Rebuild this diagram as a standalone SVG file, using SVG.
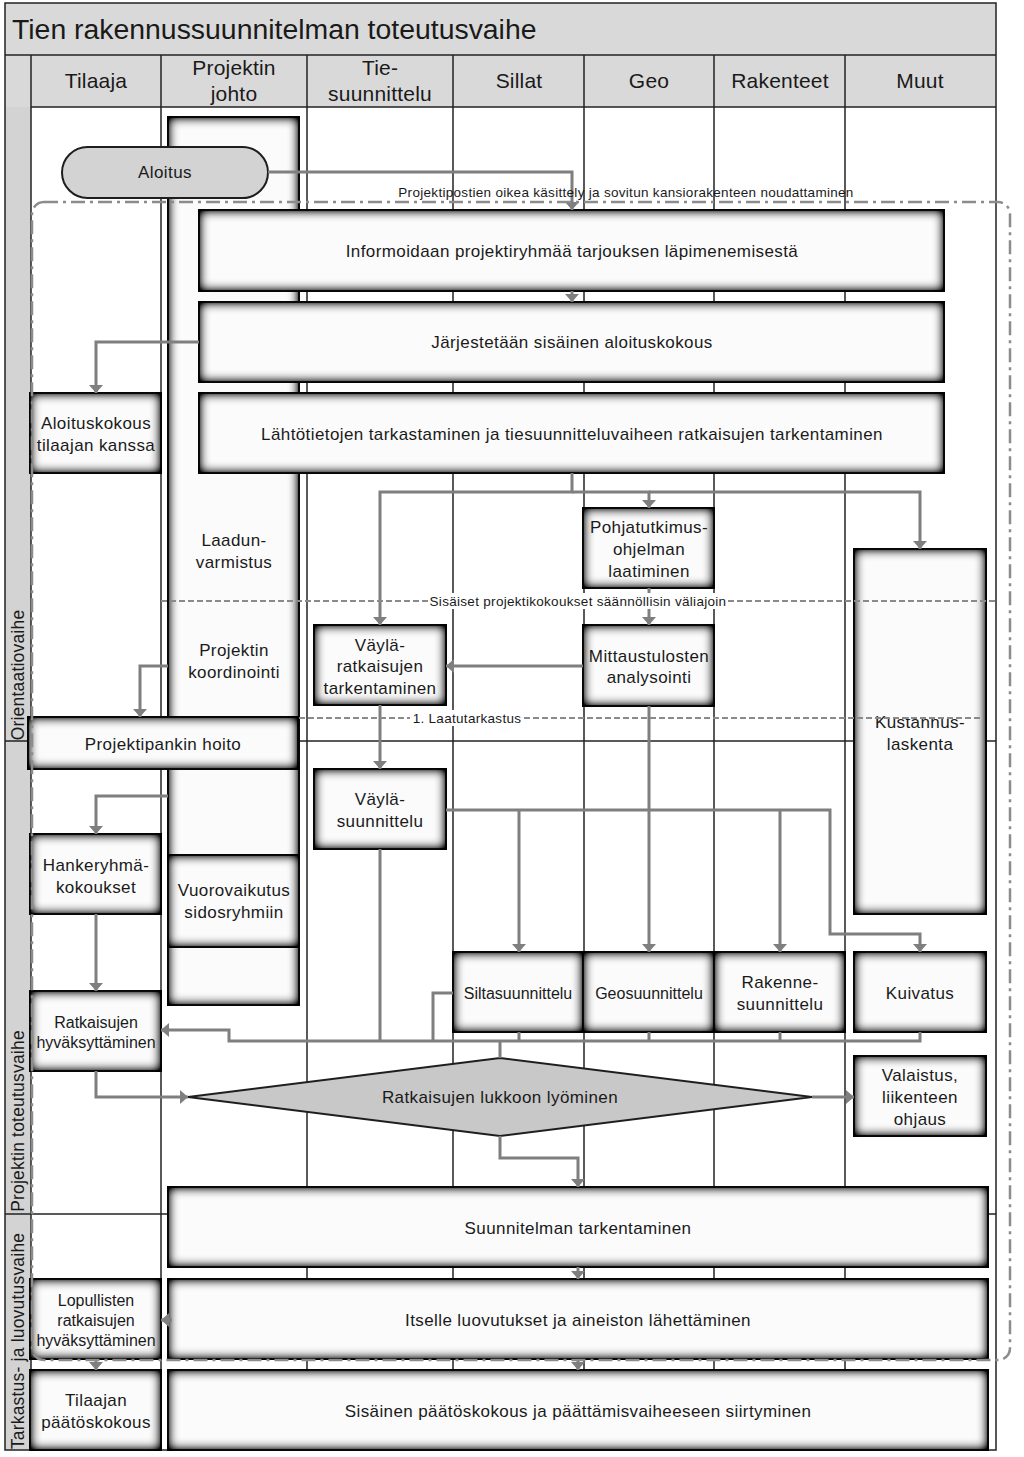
<svg xmlns="http://www.w3.org/2000/svg" width="1024" height="1457" viewBox="0 0 1024 1457">
<defs>
<style>
text{font-family:"Liberation Sans",Arial,sans-serif;fill:#1a1a1a;text-anchor:middle}
.t{font-size:17px;letter-spacing:0.4px}
.t15{font-size:16px;letter-spacing:0px}
.h{font-size:21px;letter-spacing:0.2px}
.s{font-size:13.5px;letter-spacing:0.3px}
.ph{font-size:17.5px;letter-spacing:0.2px}
.box{fill:#fbfbfb;stroke:#1e1e1e;stroke-width:2}
.grid{stroke:#222;stroke-width:1.5;fill:none}
.con{fill:none;stroke:#7f7f7f;stroke-width:3}
.arr{marker-end:url(#ah)}
.dash{stroke:#8a8a8a;stroke-width:2;stroke-dasharray:6 3;fill:none}
.dd{fill:none;stroke:#8c8c8c;stroke-width:2.5;stroke-dasharray:14 5 3 5}
</style>
<filter id="ig" x="-20%" y="-30%" width="140%" height="160%" color-interpolation-filters="sRGB">
<feFlood flood-color="#000" flood-opacity="1" result="f"/>
<feComposite in="f" in2="SourceAlpha" operator="out" result="inv"/>
<feGaussianBlur in="inv" stdDeviation="6" result="blur"/>
<feComposite in="blur" in2="SourceAlpha" operator="in" result="shadow"/>
<feComponentTransfer in="shadow" result="sh2"><feFuncA type="linear" slope="1.7"/></feComponentTransfer>
<feMerge><feMergeNode in="SourceGraphic"/><feMergeNode in="sh2"/></feMerge>
</filter>
<marker id="ah" viewBox="0 0 8 14" refX="8" refY="7" markerWidth="2.8" markerHeight="4.8" orient="auto" markerUnits="strokeWidth">
<path d="M0,0 L8,7 L0,14 z" fill="#7f7f7f"/>
</marker>
</defs>

<g id="frame">
<rect x="5" y="3" width="991" height="1447" fill="#fff"/>
<rect x="5" y="3" width="991" height="52" fill="#d9d9d9"/>
<rect x="5" y="55" width="991" height="52" fill="#d9d9d9"/>
<rect x="5" y="107" width="26" height="1343" fill="#d3d3d3"/>
<rect x="5" y="3" width="991" height="1447" class="grid"/>
<line x1="5" y1="55" x2="996" y2="55" class="grid"/>
<line x1="31" y1="107" x2="996" y2="107" class="grid"/>
<line x1="31" y1="55" x2="31" y2="1450" class="grid"/>
<line x1="161" y1="55" x2="161" y2="1450" class="grid"/>
<line x1="307" y1="55" x2="307" y2="1450" class="grid"/>
<line x1="453" y1="55" x2="453" y2="1450" class="grid"/>
<line x1="584" y1="55" x2="584" y2="1450" class="grid"/>
<line x1="714" y1="55" x2="714" y2="1450" class="grid"/>
<line x1="845" y1="55" x2="845" y2="1450" class="grid"/>
<line x1="5" y1="741" x2="996" y2="741" class="grid"/>
<line x1="5" y1="1214" x2="996" y2="1214" class="grid"/>
<text x="12" y="39" style="font-size:28.4px;text-anchor:start">Tien rakennussuunnitelman toteutusvaihe</text>
<text class="h" x="96" y="88">Tilaaja</text>
<text class="h" x="234" y="75">Projektin</text>
<text class="h" x="234" y="101">johto</text>
<text class="h" x="380" y="75">Tie-</text>
<text class="h" x="380" y="101">suunnittelu</text>
<text class="h" x="519" y="88">Sillat</text>
<text class="h" x="649" y="88">Geo</text>
<text class="h" x="780" y="88">Rakenteet</text>
<text class="h" x="920" y="88">Muut</text>
<text class="ph" transform="translate(24,675) rotate(-90)">Orientaatiovaihe</text>
<text class="ph" transform="translate(24,1121) rotate(-90)">Projektin toteutusvaihe</text>
<text class="ph" transform="translate(24,1341) rotate(-90)">Tarkastus- ja luovutusvaihe</text>
</g>

<g id="n-johto"><rect class="box" filter="url(#ig)" x="168" y="117" width="131" height="888"/>
<text class="t" x="234" y="546">Laadun-</text><text class="t" x="234" y="568">varmistus</text>
<text class="t" x="234" y="656">Projektin</text><text class="t" x="234" y="678">koordinointi</text></g>
<g id="n-vuoro"><rect class="box" filter="url(#ig)" x="168" y="855" width="131" height="92"/>
<text class="t" x="234" y="896">Vuorovaikutus</text><text class="t" x="234" y="918">sidosryhmiin</text></g>
<g id="n-aloitus"><rect x="62" y="147" width="206" height="51" rx="25.5" fill="#d3d3d3" stroke="#1e1e1e" stroke-width="2"/>
<text class="t" x="165" y="178">Aloitus</text></g>
<g id="n-info"><rect class="box" filter="url(#ig)" x="199" y="210" width="745" height="81"/>
<text class="t" x="572" y="257">Informoidaan projektiryhmää tarjouksen läpimenemisestä</text></g>
<g id="n-jarj"><rect class="box" filter="url(#ig)" x="199" y="302" width="745" height="80"/>
<text class="t" x="572" y="348">Järjestetään sisäinen aloituskokous</text></g>
<g id="n-lahto"><rect class="box" filter="url(#ig)" x="199" y="393" width="745" height="80"/>
<text class="t" x="572" y="440">Lähtötietojen tarkastaminen ja tiesuunnitteluvaiheen ratkaisujen tarkentaminen</text></g>
<g id="n-aloko"><rect class="box" filter="url(#ig)" x="30" y="393" width="131" height="80"/>
<text class="t" x="96" y="429">Aloituskokous</text><text class="t" x="96" y="451">tilaajan kanssa</text></g>
<g id="n-pohja"><rect class="box" filter="url(#ig)" x="583" y="508" width="131" height="80"/>
<text class="t" x="649" y="533">Pohjatutkimus-</text><text class="t" x="649" y="555">ohjelman</text><text class="t" x="649" y="577">laatiminen</text></g>
<g id="n-vrt"><rect class="box" filter="url(#ig)" x="314" y="625" width="132" height="80"/>
<text class="t" x="380" y="651">Väylä-</text><text class="t" x="380" y="672">ratkaisujen</text><text class="t" x="380" y="694">tarkentaminen</text></g>
<g id="n-mitt"><rect class="box" filter="url(#ig)" x="583" y="625" width="131" height="81"/>
<text class="t" x="649" y="662">Mittaustulosten</text><text class="t" x="649" y="683">analysointi</text></g>
<g id="n-kust"><rect class="box" filter="url(#ig)" x="854" y="549" width="132" height="365"/>
<text class="t" x="920" y="728">Kustannus-</text><text class="t" x="920" y="750">laskenta</text></g>
<g id="n-ppank"><rect class="box" filter="url(#ig)" x="28" y="717" width="270" height="52"/>
<text class="t" x="163" y="750">Projektipankin hoito</text></g>
<g id="n-vsuun"><rect class="box" filter="url(#ig)" x="314" y="769" width="132" height="80"/>
<text class="t" x="380" y="805">Väylä-</text><text class="t" x="380" y="827">suunnittelu</text></g>
<g id="n-hanke"><rect class="box" filter="url(#ig)" x="30" y="834" width="131" height="80"/>
<text class="t" x="96" y="871">Hankeryhmä-</text><text class="t" x="96" y="893">kokoukset</text></g>
<g id="n-ratk"><rect class="box" filter="url(#ig)" x="30" y="991" width="131" height="80"/>
<text class="t15" x="96" y="1028">Ratkaisujen</text><text class="t15" x="96" y="1048">hyväksyttäminen</text></g>
<g id="n-silta"><rect class="box" filter="url(#ig)" x="453" y="952" width="130" height="80"/>
<text class="t15" x="518" y="999">Siltasuunnittelu</text></g>
<g id="n-geo"><rect class="box" filter="url(#ig)" x="583" y="952" width="131" height="80"/>
<text class="t15" x="649" y="999">Geosuunnittelu</text></g>
<g id="n-rak"><rect class="box" filter="url(#ig)" x="714" y="952" width="131" height="80"/>
<text class="t" x="780" y="988">Rakenne-</text><text class="t" x="780" y="1010">suunnittelu</text></g>
<g id="n-kuiv"><rect class="box" filter="url(#ig)" x="854" y="952" width="132" height="80"/>
<text class="t" x="920" y="999">Kuivatus</text></g>
<g id="n-lukko"><polygon points="188,1097 500,1058 812,1097 500,1136" fill="#c8c8c8" stroke="#1e1e1e" stroke-width="2"/>
<text class="t" x="500" y="1103">Ratkaisujen lukkoon lyöminen</text></g>
<g id="n-valais"><rect class="box" filter="url(#ig)" x="854" y="1056" width="132" height="80"/>
<text class="t" x="920" y="1081">Valaistus,</text><text class="t" x="920" y="1103">liikenteen</text><text class="t" x="920" y="1125">ohjaus</text></g>
<g id="n-suunt"><rect class="box" filter="url(#ig)" x="168" y="1187" width="820" height="80"/>
<text class="t" x="578" y="1234">Suunnitelman tarkentaminen</text></g>
<g id="n-lopul"><rect class="box" filter="url(#ig)" x="30" y="1279" width="131" height="80"/>
<text class="t15" x="96" y="1306">Lopullisten</text><text class="t15" x="96" y="1326">ratkaisujen</text><text class="t15" x="96" y="1346">hyväksyttäminen</text></g>
<g id="n-itse"><rect class="box" filter="url(#ig)" x="168" y="1279" width="820" height="80"/>
<text class="t" x="578" y="1326">Itselle luovutukset ja aineiston lähettäminen</text></g>
<g id="n-tilpaat"><rect class="box" filter="url(#ig)" x="30" y="1370" width="131" height="80"/>
<text class="t" x="96" y="1406">Tilaajan</text><text class="t" x="96" y="1428">päätöskokous</text></g>
<g id="n-sispaat"><rect class="box" filter="url(#ig)" x="168" y="1370" width="820" height="80"/>
<text class="t" x="578" y="1417">Sisäinen päätöskokous ja päättämisvaiheeseen siirtyminen</text></g>

<g id="connectors">
<path class="con arr" d="M268,172 H572 V210"/>
<path class="con arr" d="M572,291 V302"/>
<path class="con arr" d="M199,342 H96 V393"/>
<path class="con arr" d="M572,473 V492 H380 V625"/>
<path class="con arr" d="M572,492 H649 V508"/>
<path class="con arr" d="M649,492 H920 V549"/>
<path class="con arr" d="M649,588 V625"/>
<path class="con arr" d="M583,666 H446"/>
<path class="con arr" d="M380,705 V769"/>
<path class="con arr" d="M168,666 H140 V717"/>
<path class="con arr" d="M168,796 H96 V834"/>
<path class="con arr" d="M96,914 V991"/>
<path class="con arr" d="M446,810 H830 V934 H920 V952"/>
<path class="con arr" d="M519,810 V952"/>
<path class="con arr" d="M780,810 V952"/>
<path class="con arr" d="M649,706 V952"/>
<path class="con arr" d="M920,1032 V1041 H229 V1030 H161"/>
<path class="con" d="M380,849 V1041 M453,993 H433 V1041 M519,1032 V1041 M649,1032 V1041 M780,1032 V1041 M500,1041 V1058"/>
<path class="con arr" d="M96,1071 V1097 H188"/>
<path class="con arr" d="M812,1097 H854"/>
<path class="con arr" d="M500,1136 V1158 H578 V1187"/>
<path class="con arr" d="M578,1267 V1279"/>
<path class="con arr" d="M172,1320 H161"/>
<path class="con arr" d="M578,1359 V1370"/>
<path class="con arr" d="M96,1359 V1370"/>
</g>

<g id="annotations">
<line class="dash" x1="161" y1="601" x2="996" y2="601"/>
<rect x="429" y="593" width="299" height="16" fill="#fff"/>
<text class="s" x="578" y="606">Sisäiset projektikokoukset säännöllisin väliajoin</text>
<line class="dash" x1="299" y1="718" x2="983" y2="718"/>
<rect x="410" y="710" width="114" height="16" fill="#fff"/>
<text class="s" x="467" y="723">1. Laatutarkastus</text>
<rect class="dd" x="32" y="202" width="978" height="1158" rx="12"/>
<text class="s" x="626" y="197">Projektipostien oikea käsittely ja sovitun kansiorakenteen noudattaminen</text>
</g>
</svg>
